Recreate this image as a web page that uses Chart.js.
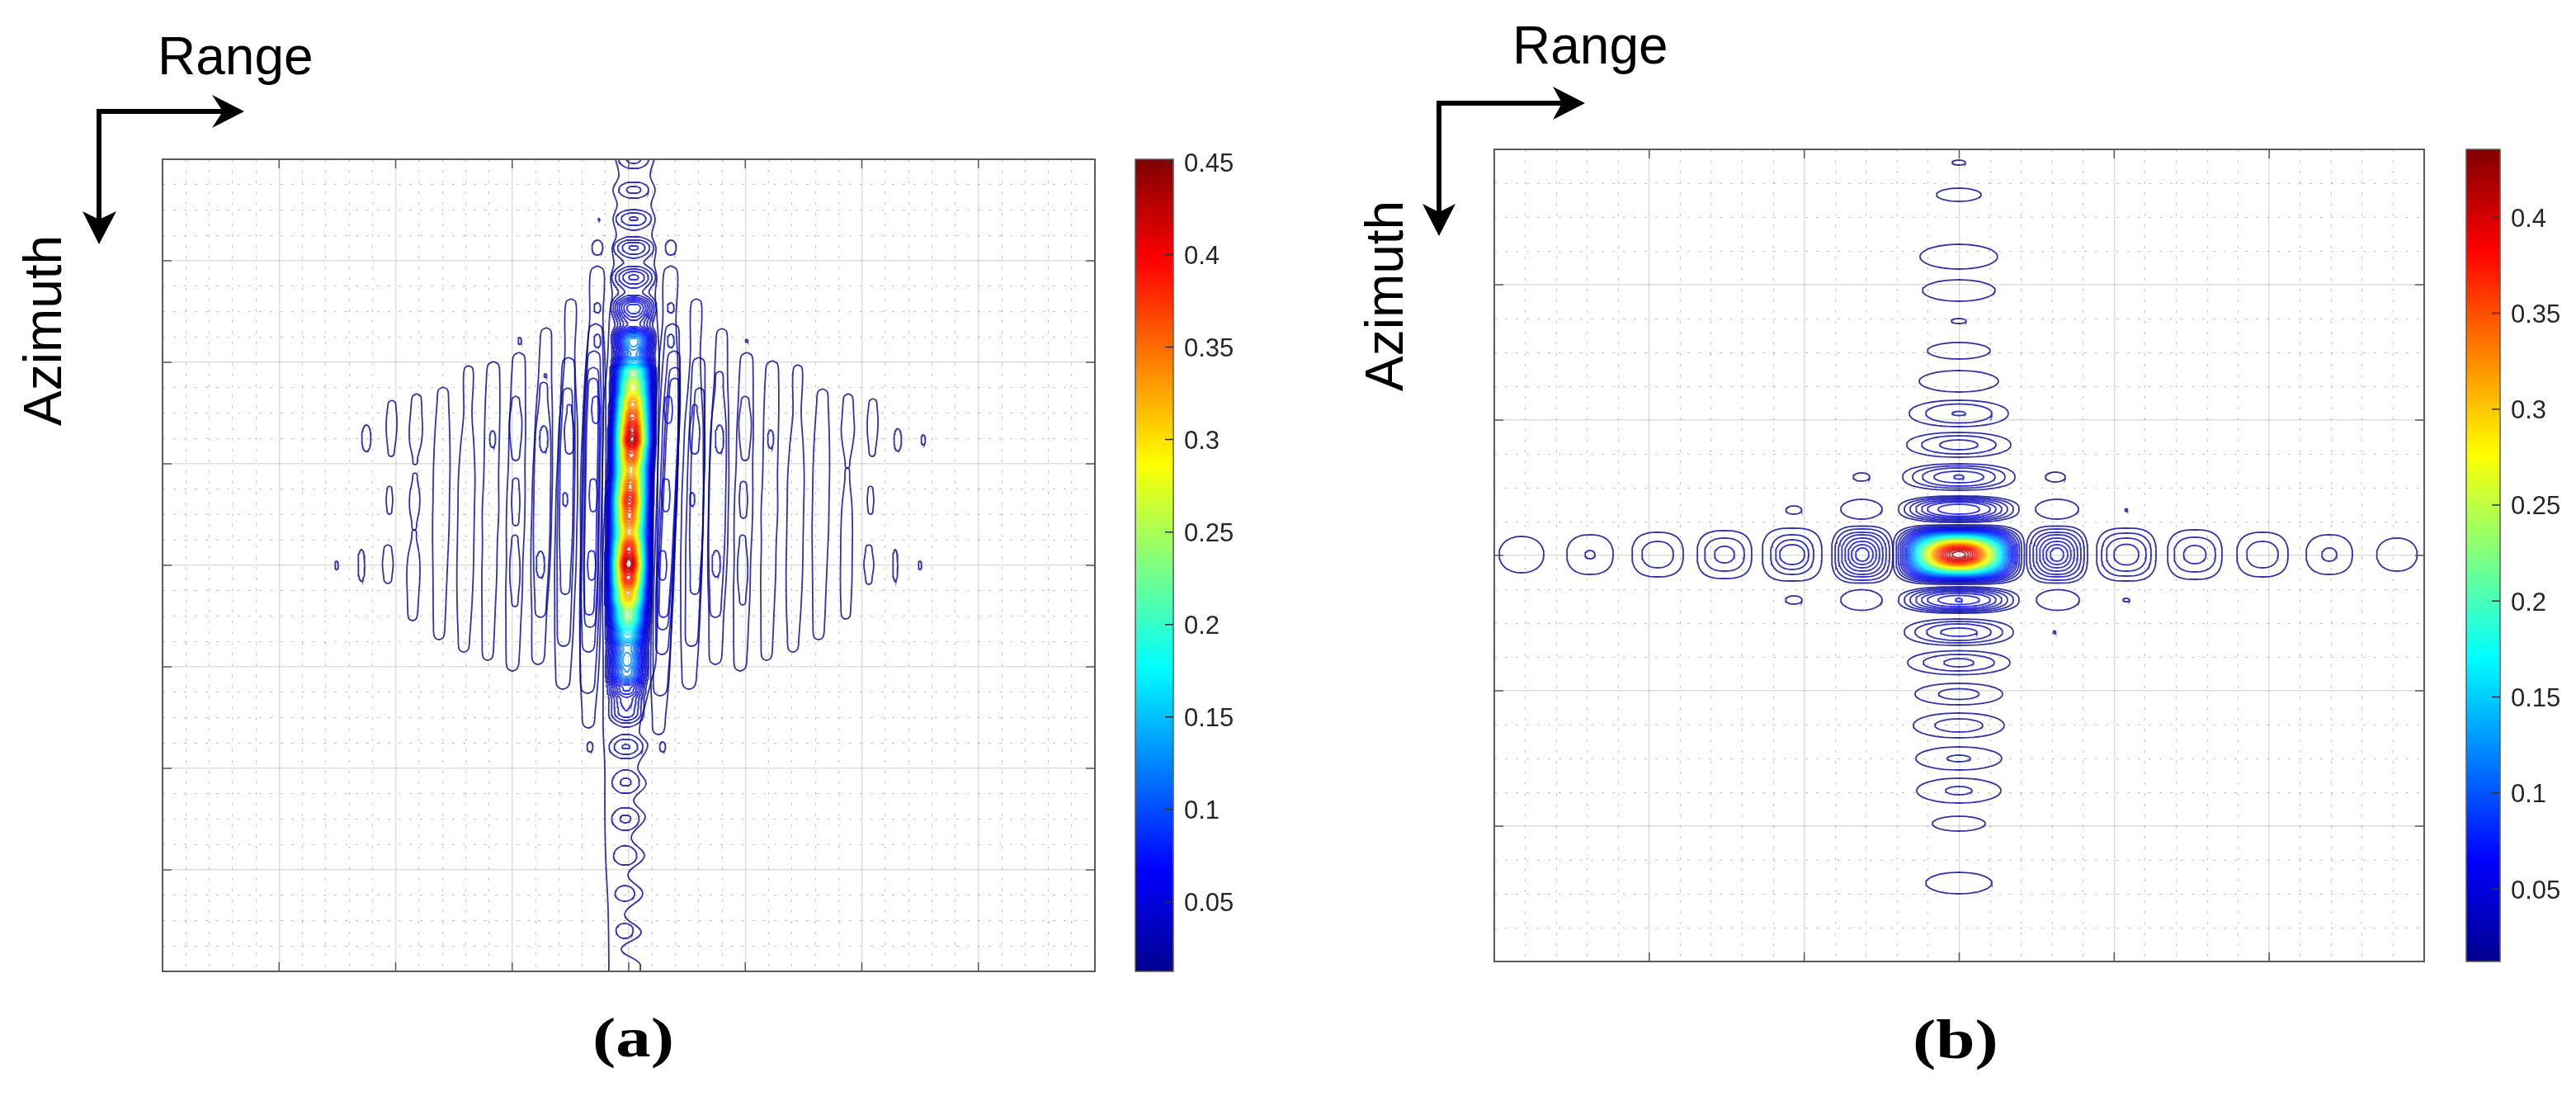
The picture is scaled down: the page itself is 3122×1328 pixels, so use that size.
<!DOCTYPE html>
<html>
<head>
<meta charset="utf-8">
<title>Range / Azimuth contours</title>
<script src="https://cdn.jsdelivr.net/npm/chart.js@4"></script>
<style>
    body { margin: 0; background: #fff; }
    #page { position: relative; width: 3122px; height: 1328px; overflow: hidden; }
    canvas { position: absolute; }
    svg { position: absolute; left: 0; top: 0; }
    .plot { filter: blur(0.5px); }
</style>
</head>
<body>
<div id="page">
    <canvas id="plotA" class="plot" width="1138" height="992" style="left:193px;top:189px"></canvas>
    <canvas id="barA" width="160" height="1024" style="left:1372px;top:173px"></canvas>
    <canvas id="plotB" class="plot" width="1135" height="992" style="left:1807px;top:177px"></canvas>
    <canvas id="barB" width="137" height="1024" style="left:2985px;top:161px"></canvas>
    <svg width="3122" height="1328" font-family="Liberation Sans" font-size="64" fill="#000">
        <text x="191" y="90">Range</text>
        <text transform="translate(74,516) rotate(-90)">Azimuth</text>
        <path d="M120 135H270M120 132V270" stroke="#000" stroke-width="6" fill="none"/>
        <path d="M296 135L257 115L270 135L257 155Z"/>
        <path d="M120 296L100 256L120 266L141 256Z"/>
        <text x="1833" y="77">Range</text>
        <text transform="translate(1700,474) rotate(-90)">Azimuth</text>
        <path d="M1744 125H1895M1744 122V260" stroke="#000" stroke-width="6" fill="none"/>
        <path d="M1921 125L1882 105L1893 125L1882 145Z"/>
        <path d="M1744 286L1724 247L1744 257L1764 247Z"/>
        <text transform="translate(718,1280) scale(1.25,1)" font-family="Liberation Serif" font-weight="bold" font-size="68">(a)</text>
        <text transform="translate(2318,1282) scale(1.25,1)" font-family="Liberation Serif" font-weight="bold" font-size="68">(b)</text>
    </svg>
</div>
<script>
// 等高線のレベル
const contourLevels = [0.0125, 0.02, 0.0275, 0.035, 0.0425, 0.05, 0.0575, 0.065, 0.0725, 0.08, 0.0875, 0.095, 0.1025, 0.11, 0.1175, 0.125, 0.1325, 0.14, 0.1475, 0.155, 0.1625, 0.17, 0.1775, 0.185, 0.1925, 0.2, 0.2075, 0.215, 0.2225, 0.23, 0.2375, 0.245, 0.2525, 0.26, 0.2675, 0.275, 0.2825, 0.29, 0.2975, 0.305, 0.3125, 0.32, 0.3275, 0.335, 0.3425, 0.35, 0.3575, 0.365, 0.3725, 0.38, 0.3875, 0.395, 0.4025, 0.41, 0.4175, 0.425, 0.4325, 0.44];

// カラーバー
const barRangeA = [0.0125, 0.4515];
const barTicksA = [0.05, 0.1, 0.15, 0.2, 0.25, 0.3, 0.35, 0.4, 0.45];
const barRangeB = [0.0122, 0.4353];
const barTicksB = [0.05, 0.1, 0.15, 0.2, 0.25, 0.3, 0.35, 0.4];

// (a) 中央の尾根: 方位方向の振幅
const ridgeY = [0, 20, 37, 55, 72, 90, 107, 125, 143, 161, 180, 200, 220, 237, 246, 257, 277, 297, 312, 327, 339, 357, 377, 397, 412, 432, 452, 472, 490, 507, 527, 552, 577, 592, 607, 622, 642, 655, 669, 692, 712, 732, 755, 777, 799, 822, 844, 867, 890, 912, 934, 962, 984];
const ridgePeak = [0.03, 0.014, 0.03, 0.014, 0.036, 0.018, 0.044, 0.024, 0.052, 0.032, 0.08, 0.055, 0.14, 0.12, 0.15, 0.23, 0.28, 0.34, 0.38, 0.42, 0.445, 0.38, 0.33, 0.37, 0.405, 0.37, 0.33, 0.4, 0.45, 0.4, 0.33, 0.24, 0.17, 0.13, 0.14, 0.125, 0.075, 0.055, 0.05, 0.018, 0.036, 0.017, 0.029, 0.016, 0.029, 0.016, 0.026, 0.014, 0.024, 0.013, 0.023, 0.013, 0.012];
const ridgeCenterY = [0, 220, 339, 412, 490, 669, 799, 934, 984];
const ridgeCenterX = [571, 571, 569, 566, 565, 562, 561, 560, 560];
const ridgeWidthY = [0, 147, 220, 277, 567, 657, 707, 984];
const ridgeWidth = [46, 46, 36, 34, 34, 36, 44, 44];

// (a) 最外周の等高線
const outerLeftX = [549, 553, 546, 551, 546, 550, 545, 547, 543, 545, 542, 539, 534, 533, 534, 534, 534, 536, 536, 537, 540, 541];
const outerLeftY = [0, 20, 37, 55, 72, 92, 107, 127, 143, 164, 187, 247, 307, 507, 607, 644, 690, 737, 784, 844, 910, 984];
const outerRightX = [596, 591, 597, 592, 597, 593, 598, 596, 599, 597, 599, 602, 601, 599, 598, 591, 586, 578, 588, 576, 586, 571, 585, 568, 584, 564, 582, 560, 580, 556, 578, 579];
const outerRightY = [0, 20, 37, 55, 72, 92, 107, 127, 143, 164, 187, 247, 307, 507, 607, 637, 657, 694, 710, 737, 757, 777, 797, 822, 844, 867, 890, 915, 937, 957, 974, 984];

// (a) サイドローブ: 上端x, 下端x, 上端y, 下端y, レベル番号, 半幅...
const sideLobesA = [
    [527, 516, 129, 689, 0, 9, 8, 11, 13, 14, 15, 15, 14, 13, 12, 12, 11, 8],
    [525, 515, 199, 647, 1, 9, 11, 12, 12, 12, 12, 12, 11, 9],
    [523, 516, 232, 597, 2, 8, 10, 10, 10, 10, 10, 10, 8],
    [522, 518, 252, 567, 3, 7, 8.5, 8.5, 8.5, 8.5, 8.5, 7],
    [522, 517, 265, 552, 4, 6, 7, 7, 7, 7, 7, 6],
    [525, 525, 287, 320, 5, 4, 5, 4],
    [522, 522, 387, 427, 5, 4, 5, 4],
    [520, 520, 474, 510, 5, 4, 5, 4],
    [616, 601, 129, 697, 0, 9, 8, 11, 13, 14, 15, 15, 14, 13, 12, 12, 11, 8],
    [618, 603, 199, 650, 1, 9, 11, 12, 12, 12, 12, 12, 11, 9],
    [620, 605, 232, 600, 2, 8, 10, 10, 10, 10, 10, 10, 8],
    [621, 606, 252, 570, 3, 7, 8.5, 8.5, 8.5, 8.5, 8.5, 7],
    [621, 607, 265, 555, 4, 6, 7, 7, 7, 7, 7, 6],
    [613, 613, 287, 320, 5, 4, 5, 4],
    [610, 610, 387, 427, 5, 4, 5, 4],
    [606, 606, 474, 510, 5, 4, 5, 4],
    [495, 485, 169, 642, 0, 7, 6, 8, 11, 12, 13, 13, 13, 12, 11, 9],
    [492, 486, 240, 590, 1, 8, 9, 10, 10, 10, 9, 8],
    [491, 488, 277, 527, 2, 6, 8, 8, 8, 6],
    [493, 493, 297, 357, 3, 3, 6, 5],
    [647, 638, 169, 642, 0, 7, 6, 8, 11, 12, 13, 13, 13, 12, 11, 9],
    [650, 641, 240, 590, 1, 8, 9, 10, 10, 10, 9, 8],
    [651, 645, 277, 527, 2, 6, 8, 8, 8, 6],
    [645, 645, 297, 357, 3, 3, 6, 5],
    [465, 455, 204, 612, 0, 7, 8, 10, 11, 12, 12, 12, 11, 9, 8],
    [462, 458, 270, 555, 1, 5, 9, 10, 10, 10, 9, 7],
    [678, 670, 205, 612, 0, 7, 8, 10, 11, 12, 12, 12, 11, 9, 8],
    [675, 670, 257, 555, 1, 5, 9, 10, 10, 10, 9, 7],
    [432, 424, 234, 620, 0, 8, 9, 10, 10, 11, 11, 10, 10, 9, 8],
    [428, 428, 287, 365, 1, 5, 7.5, 7, 5],
    [428, 428, 386, 444, 1, 4, 5, 4],
    [427, 427, 455, 542, 1, 4, 6, 6, 4],
    [708, 700, 234, 620, 0, 8, 9, 10, 10, 11, 11, 10, 10, 9, 8],
    [706, 706, 287, 365, 1, 5, 7.5, 7, 5],
    [704, 704, 390, 435, 1, 4, 5, 4],
    [703, 703, 455, 540, 1, 4, 6, 6, 4],
    [401, 394, 245, 607, 0, 8, 9, 9, 9, 10, 9, 9, 8, 7],
    [739, 732, 244, 607, 0, 8, 9, 9, 9, 10, 9, 9, 8, 7],
    [371, 365, 250, 597, 0, 6, 5, 8, 10, 10, 10, 10, 9, 7],
    [770, 764, 249, 597, 0, 6, 5, 8, 10, 10, 10, 10, 9, 7],
    [340, 335, 276, 582, 0, 7, 9, 10, 10, 10, 9, 8, 7],
    [800, 795, 278, 582, 0, 7, 9, 10, 10, 10, 9, 8, 7],
    [308, 306, 284, 370, 0, 6, 7, 8, 7, 3],
    [306, 305, 380, 449, 0, 3, 6, 6, 3],
    [305, 303, 449, 559, 0, 3, 7, 8, 7, 6],
    [831, 830, 284, 374, 0, 6, 7, 8, 6, 3],
    [830, 828, 374, 557, 0, 3, 6, 7, 7, 7, 6],
    [278, 277, 292, 360, 0, 5, 6.5, 6, 4],
    [275, 275, 396, 430, 0, 3, 4, 3],
    [273, 273, 467, 514, 0, 5, 6.5, 5],
    [861, 860, 290, 360, 0, 5, 6.5, 6, 4],
    [858, 858, 396, 430, 0, 3, 4, 3],
    [856, 856, 467, 515, 0, 4, 6, 4]
];

// (a) 小さな輪: x, y, 半幅, 半高, レベル番号
const smallRingsA = [
    [527, 107, 6.5, 9, 0], [616, 107, 6.5, 9, 0], [527, 180, 4, 6, 1], [616, 180, 4, 6, 1],
    [527, 220, 4, 8, 2], [616, 220, 4, 8, 2], [488, 412, 3, 8, 3], [642, 412, 3, 8, 3],
    [462, 339, 5, 16, 2], [458, 491, 5, 16, 2], [675, 339, 5, 17, 2], [671, 490, 5, 16, 2],
    [400, 339, 3.5, 10, 1], [737, 339, 3.5, 11, 1], [247, 338, 5.5, 16, 0], [241, 492, 4, 19, 0],
    [211, 492, 2, 5, 0], [891, 340, 4.5, 13.5, 0], [888, 492, 3, 19, 0], [922, 340, 2.5, 6, 0],
    [918, 492, 2, 5, 0], [433, 220, 2, 4, 0], [464, 262, 1.5, 2, 1], [529, 73, 1, 1, 0],
    [708, 220, 1.5, 1.5, 1], [518, 712, 3.5, 6, 0], [606, 712, 3.5, 6, 0]
];

// (b) 中央ローブ
const coreX = 563;
const coreY = 491;
const coreLevels = [0.0125, 0.0225, 0.0325, 0.0425, 0.0525, 0.0625, 0.0725, 0.0825, 0.0925, 0.1025, 0.1125, 0.1225, 0.1325, 0.1425, 0.1525, 0.1625, 0.1725, 0.1825, 0.1925, 0.2025, 0.2125, 0.2225, 0.2325, 0.2425, 0.2525, 0.2625, 0.2725, 0.2825, 0.2925, 0.3025, 0.3125, 0.3225, 0.3325, 0.3425, 0.3525, 0.3625, 0.3725, 0.3825, 0.3925, 0.4025, 0.4125, 0.4225];
const coreRx = [79.5, 76, 73.4, 71, 69, 67, 65, 63.4, 61.8, 60.3, 58.8, 57.2, 55.7, 54.4, 53, 51.6, 50.2, 49, 47.6, 46.3, 44.9, 43.6, 42.3, 41, 39.7, 38.2, 36.9, 35.5, 34.1, 32.7, 31.2, 29.7, 28.2, 26.6, 25, 23.1, 21.3, 19.2, 17, 14.6, 11.6, 8];
const coreRy = [36, 34.5, 33.2, 32.2, 31.2, 30.3, 29.5, 28.7, 28, 27.3, 26.6, 25.9, 25.2, 24.6, 24, 23.4, 22.8, 22.2, 21.6, 21, 20.3, 19.8, 19.2, 18.6, 18, 17.3, 16.7, 16.1, 15.4, 14.8, 14.1, 13.5, 12.8, 12.1, 11.3, 10.5, 9.6, 8.7, 7.7, 6.6, 5.3, 3.6];

// (b) 水平方向のローブ
const rowLobeX = [33, 116, 198, 279, 361, 446, 682, 766, 849, 931, 1012, 1094];
const rowLobeSquare = [0.15, 0.4, 0.6, 0.8, 1.0, 1.2, 1.2, 1.0, 0.8, 0.6, 0.4, 0.15];
const rowLobeRings = [
    [[27, 22]],
    [[28, 24], [6, 5]],
    [[31, 27], [19, 16]],
    [[33, 29], [24, 20], [12, 10]],
    [[36, 32], [26, 24], [20, 18], [15, 12]],
    [[37, 34.5], [33, 31], [29, 27], [25, 24], [21, 20], [17, 16], [13, 12], [8, 8]],
    [[37, 34.5], [33, 31], [29, 27], [25, 24], [21, 20], [17, 16], [13, 12], [8, 8]],
    [[36, 32], [30, 26], [24, 20], [15, 12.5]],
    [[33, 30], [25, 21], [13.5, 11]],
    [[31, 27], [19, 16]],
    [[28, 24], [9, 8]],
    [[24.5, 20]]
];

// (b) 垂直方向のローブ
const columnLobeY = [16, 55, 130, 171, 208, 244, 281, 320, 358, 397, 436, 546, 585, 622, 660, 698, 738, 777, 817, 889];
const columnLobeSquare = [0, 0, 0, 0, 0, 0, 0, 0.15, 0.2, 0.4, 0.6, 0.6, 0.3, 0.15, 0.1, 0.1, 0.05, 0.05, 0, 0];
const columnLobeRings = [
    [[8, 3]],
    [[27, 8]],
    [[47, 15]],
    [[44, 13]],
    [[9, 3]],
    [[38, 10]],
    [[48, 13]],
    [[60, 16], [40, 11.5], [8, 2.5]],
    [[63, 15], [45, 11], [23, 6]],
    [[68, 16], [56, 13.5], [44, 11], [30, 7], [6, 2.5]],
    [[73, 16], [66, 14.5], [59, 13], [52, 11.5], [45, 10], [38, 8.5], [25, 6]],
    [[73, 16], [66, 14.5], [59, 13], [52, 11.5], [45, 10], [38, 8], [25, 5.5], [4, 2]],
    [[66, 16], [53, 13], [39, 10], [22, 5]],
    [[62, 14.5], [43, 10], [18, 5]],
    [[53, 13], [24.5, 6.5]],
    [[55, 15], [29, 8]],
    [[52, 14], [14, 4]],
    [[51, 15], [16, 5]],
    [[32, 9]],
    [[40, 13]]
];

// (b) 小さな輪: x, y, 半幅, 半高
const smallRingsB = [
    [445, 397, 10, 5], [680, 397, 12, 6], [445, 436, 25, 12], [682, 436, 26, 12],
    [445, 546, 25, 12.5], [683, 546, 26, 12.5], [766, 437, 1.5, 1.5], [766, 546, 4, 2],
    [363, 437, 9.5, 5], [363, 546, 10, 5], [679, 585, 1.5, 1.5]
];

// jetカラーマップ
const jetStops = [
    [0, [0, 0, 143]], [0.125, [0, 0, 255]], [0.375, [0, 255, 255]],
    [0.625, [255, 255, 0]], [0.875, [255, 0, 0]], [1, [128, 0, 0]]
];

function jetColor(level, range) {
    const t = Math.min(1, Math.max(0, (level - range[0]) / (range[1] - range[0])));
    for (let i = 1; i < jetStops.length; i++) {
        if (t <= jetStops[i][0]) {
            const a = jetStops[i - 1];
            const b = jetStops[i];
            const f = (t - a[0]) / (b[0] - a[0]);
            const rgb = a[1].map((v, k) => Math.round(v + (b[1][k] - v) * f));
            return `rgba(${rgb[0]}, ${rgb[1]}, ${rgb[2]}, 0.8)`;
        }
    }
    return 'rgb(128, 0, 0)';
}

function contourDataset(points, level, range, tension) {
    return {
        data: points,
        showLine: true,
        fill: false,
        pointRadius: 0,
        borderWidth: 1.8,
        borderColor: jetColor(level, range),
        tension: tension || 0
    };
}

// 読み取った中心と半径から輪の輪郭を作る
function ringOutline(cx, cy, rx, ry, n) {
    const points = [];
    for (let i = 0; i <= 60; i++) {
        const a = i / 60 * Math.PI * 2;
        const c = Math.cos(a);
        const s = Math.sin(a);
        points.push({
            x: cx + rx * Math.sign(c) * Math.pow(Math.abs(c), 2 / n),
            y: cy + ry * Math.sign(s) * Math.pow(Math.abs(s), 2 / n)
        });
    }
    return points;
}

// 読み取った半幅から細長いローブの輪郭を作る
function lobeOutline(row) {
    const [xTop, xBottom, yTop, yBottom, , ...widths] = row;
    const centerAt = (y) => xTop + (xBottom - xTop) * (y - yTop) / (yBottom - yTop);
    const side = [];
    const first = widths[0];
    const last = widths[widths.length - 1];
    side.push([yTop + first * 0.5, first * 0.8]);
    widths.forEach((w, k) => {
        side.push([yTop + (k + 0.5) / widths.length * (yBottom - yTop), w]);
    });
    side.push([yBottom - last * 0.5, last * 0.8]);
    const points = [{ x: xTop, y: yTop }];
    side.forEach(([y, w]) => points.push({ x: centerAt(y) + w, y: y }));
    points.push({ x: xBottom, y: yBottom });
    side.slice().reverse().forEach(([y, w]) => points.push({ x: centerAt(y) - w, y: y }));
    points.push({ x: xTop, y: yTop });
    return points;
}

function lookup(y, xs, ys) {
    for (let i = 1; i < xs.length; i++) {
        if (y <= xs[i]) {
            return ys[i - 1] + (ys[i] - ys[i - 1]) * (y - xs[i - 1]) / (xs[i] - xs[i - 1]);
        }
    }
    return ys[ys.length - 1];
}

function ridgePeakAt(y) {
    for (let i = 1; i < ridgeY.length; i++) {
        if (y <= ridgeY[i]) {
            const t = (y - ridgeY[i - 1]) / (ridgeY[i] - ridgeY[i - 1]);
            const e = (1 - Math.cos(t * Math.PI)) / 2;
            return ridgePeak[i - 1] + (ridgePeak[i] - ridgePeak[i - 1]) * e;
        }
    }
    return ridgePeak[ridgePeak.length - 1];
}

// 尾根の振幅からレベルごとの閉曲線を求める
function ridgeContours(level) {
    const runs = [];
    let run = null;
    for (let y = 0; y <= 984; y++) {
        const peak = ridgePeakAt(y);
        if (peak > level) {
            const half = lookup(y, ridgeWidthY, ridgeWidth) * Math.acos(Math.sqrt(level / peak)) * 2 / Math.PI;
            if (!run) {
                run = [];
                runs.push(run);
            }
            run.push({ y: y, c: lookup(y, ridgeCenterY, ridgeCenterX), half: half });
        } else {
            run = null;
        }
    }
    return runs.map((r) => {
        const right = r.map((p) => ({ x: p.c + p.half, y: p.y }));
        const left = r.slice().reverse().map((p) => ({ x: p.c - p.half, y: p.y }));
        return right.concat(left, [right[0]]);
    });
}

function buildDatasetsA() {
    const sets = [];
    sideLobesA.forEach((row) => {
        sets.push(contourDataset(lobeOutline(row), contourLevels[row[4]], barRangeA, 0.35));
    });
    smallRingsA.forEach(([x, y, rx, ry, k]) => {
        sets.push(contourDataset(ringOutline(x, y, rx, ry, 2.1), contourLevels[k], barRangeA));
    });
    const zip = (xs, ys) => xs.map((x, i) => ({ x: x, y: ys[i] }));
    sets.push(contourDataset(zip(outerLeftX, outerLeftY), contourLevels[0], barRangeA, 0.4));
    sets.push(contourDataset(zip(outerRightX, outerRightY), contourLevels[0], barRangeA, 0.4));
    contourLevels.slice(1).forEach((level) => {
        ridgeContours(level).forEach((points) => {
            sets.push(contourDataset(points, level, barRangeA));
        });
    });
    return sets;
}

function buildDatasetsB() {
    const sets = [];
    const addLobe = (cx, cy, rings, square) => {
        rings.forEach(([rx, ry], k) => {
            const n = 2 + square * Math.pow(rx / rings[0][0], 2);
            sets.push(contourDataset(ringOutline(cx, cy, rx, ry, n), contourLevels[k], barRangeB));
        });
    };
    rowLobeX.forEach((x, i) => addLobe(x, coreY, rowLobeRings[i], rowLobeSquare[i]));
    columnLobeY.forEach((y, i) => addLobe(coreX, y, columnLobeRings[i], columnLobeSquare[i]));
    smallRingsB.forEach(([x, y, rx, ry]) => {
        sets.push(contourDataset(ringOutline(x, y, rx, ry, 2), contourLevels[0], barRangeB));
    });
    coreLevels.forEach((level, i) => {
        const n = 2.1 + 2.2 * Math.pow(coreRx[i] / coreRx[0], 4);
        sets.push(contourDataset(ringOutline(coreX, coreY, coreRx[i], coreRy[i], n), level, barRangeB));
    });
    return sets;
}

// 枠線と内向きの目盛り
const plotFrame = {
    id: 'plotFrame',
    afterDraw(chart) {
        const { ctx, chartArea: a, scales } = chart;
        ctx.save();
        ctx.strokeStyle = '#5a5a5a';
        ctx.lineWidth = 2;
        ctx.strokeRect(a.left, a.top, a.right - a.left, a.bottom - a.top);
        ctx.lineWidth = 1.5;
        ctx.beginPath();
        scales.x.ticks.forEach((t) => {
            const px = scales.x.getPixelForValue(t.value);
            ctx.moveTo(px, a.top);
            ctx.lineTo(px, a.top + 11);
            ctx.moveTo(px, a.bottom);
            ctx.lineTo(px, a.bottom - 11);
        });
        scales.y.ticks.forEach((t) => {
            const py = scales.y.getPixelForValue(t.value);
            ctx.moveTo(a.left, py);
            ctx.lineTo(a.left + 11, py);
            ctx.moveTo(a.right, py);
            ctx.lineTo(a.right - 11, py);
        });
        ctx.stroke();
        ctx.restore();
    }
};

const barFrame = {
    id: 'barFrame',
    afterDraw(chart) {
        const { ctx, chartArea: a, scales } = chart;
        ctx.save();
        ctx.strokeStyle = '#5a5a5a';
        ctx.lineWidth = 1.5;
        ctx.strokeRect(a.left, a.top, a.right - a.left, a.bottom - a.top);
        ctx.strokeStyle = '#333';
        ctx.beginPath();
        scales.y.ticks.forEach((t) => {
            const py = scales.y.getPixelForValue(t.value);
            ctx.moveTo(a.right, py);
            ctx.lineTo(a.right - 10, py);
        });
        ctx.stroke();
        ctx.restore();
    }
};

function hiddenScale(options) {
    return Object.assign({
        type: 'linear',
        border: { display: false },
        grid: { drawTicks: false, color: 'rgba(0, 0, 0, 0.13)', lineWidth: 1.5 }
    }, options);
}

// 補助目盛りの点線(主目盛りの位置には引かない)
function minorScale(options, majorStep) {
    return Object.assign(hiddenScale(options), {
        grid: {
            drawTicks: false,
            lineWidth: 1,
            color(context) {
                const r = context.tick.value / majorStep;
                return Math.abs(r - Math.round(r)) < 1e-6 ? 'rgba(0, 0, 0, 0)' : '#c4c4c4';
            }
        },
        border: { display: false, dash: [3, 10] }
    });
}

function drawPlot(id, datasets, width, height, xStep, yStep) {
    const xTicks = { display: false, autoSkip: false, maxTicksLimit: 200, stepSize: xStep };
    const yTicks = { display: false, autoSkip: false, maxTicksLimit: 200, stepSize: yStep };
    const xMinorTicks = Object.assign({}, xTicks, { stepSize: xStep / 5 });
    const yMinorTicks = Object.assign({}, yTicks, { stepSize: yStep / 4 });
    new Chart(document.getElementById(id), {
        type: 'scatter',
        data: { datasets: datasets },
        plugins: [plotFrame],
        options: {
            responsive: false,
            animation: false,
            events: [],
            layout: { padding: 4 },
            plugins: { legend: { display: false }, tooltip: { enabled: false } },
            scales: {
                xMinor: minorScale({ axis: 'x', position: 'top', min: 0, max: width, ticks: xMinorTicks }, xStep),
                yMinor: minorScale({ axis: 'y', position: 'right', reverse: true, min: 0, max: height, ticks: yMinorTicks }, yStep),
                x: hiddenScale({ position: 'bottom', min: 0, max: width, ticks: xTicks }),
                y: hiddenScale({ position: 'left', reverse: true, min: 0, max: height, ticks: yTicks })
            }
        }
    });
}

function drawBar(id, range, tickValues, labelWidth) {
    new Chart(document.getElementById(id), {
        type: 'bar',
        data: {
            labels: [''],
            datasets: [{
                data: [range],
                barPercentage: 1,
                categoryPercentage: 1,
                backgroundColor(context) {
                    const a = context.chart.chartArea;
                    if (!a) {
                        return '#000';
                    }
                    const g = context.chart.ctx.createLinearGradient(0, a.bottom, 0, a.top);
                    jetStops.forEach(([t, c]) => g.addColorStop(t, `rgb(${c[0]}, ${c[1]}, ${c[2]})`));
                    return g;
                }
            }]
        },
        plugins: [barFrame],
        options: {
            responsive: false,
            animation: false,
            events: [],
            layout: { padding: { left: 4, right: 0, top: 20, bottom: 20 } },
            plugins: { legend: { display: false }, tooltip: { enabled: false } },
            scales: {
                x: { display: false },
                y: {
                    position: 'right',
                    min: range[0],
                    max: range[1],
                    afterFit(scale) {
                        scale.width = labelWidth;
                        scale.paddingTop = 0;
                        scale.paddingBottom = 0;
                    },
                    afterBuildTicks(scale) { scale.ticks = tickValues.map((v) => ({ value: v })); },
                    grid: { display: false, drawTicks: false },
                    border: { display: false },
                    ticks: {
                        padding: 13,
                        labelOffset: 3,
                        color: '#262626',
                        font: { family: 'Liberation Sans', size: 31 },
                        callback: (v) => String(v)
                    }
                }
            }
        }
    });
}

drawPlot('plotA', buildDatasetsA(), 1130, 984, 141.25, 123);
drawBar('barA', barRangeA, barTicksA, 110);
drawPlot('plotB', buildDatasetsB(), 1127, 984, 1127 / 6, 164);
drawBar('barB', barRangeB, barTicksB, 92);
</script>
</body>
</html>
